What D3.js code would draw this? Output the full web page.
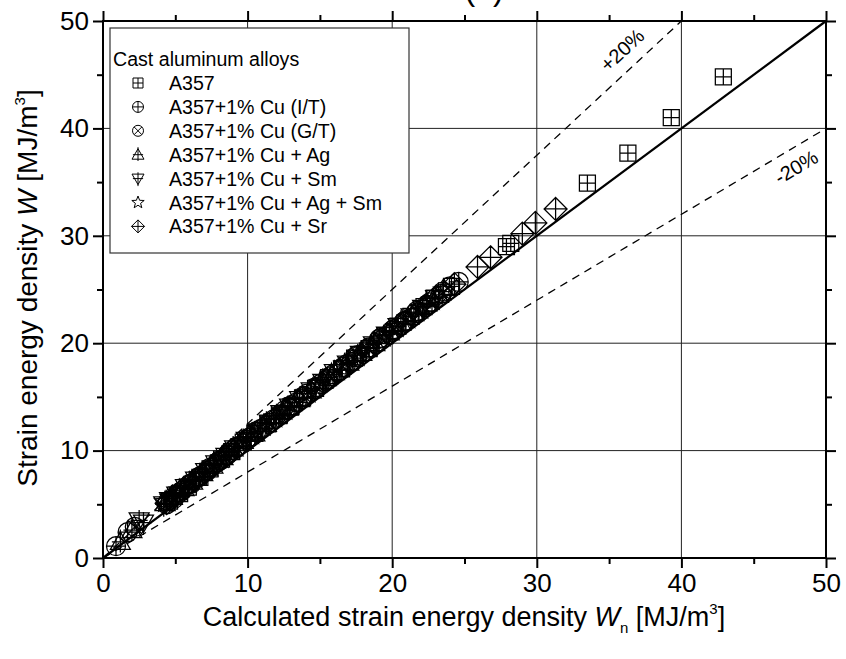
<!DOCTYPE html>
<html><head><meta charset="utf-8">
<script src="https://cdn.jsdelivr.net/npm/d3@7"></script>
<style>
body{margin:0;background:#fff}
text{font-family:"Liberation Sans",Arial,Helvetica,sans-serif;fill:#000}
</style>
</head><body>
<svg id="chart" width="846" height="659"></svg>
<script>
// ---------------- data ----------------
const majorTicks = [0, 10, 20, 30, 40, 50];
const minorTicks = [5, 15, 25, 35, 45];
const seriesNames = ["A357", "A357+1% Cu (I/T)", "A357+1% Cu (G/T)", "A357+1% Cu + Ag",
  "A357+1% Cu + Sm", "A357+1% Cu + Ag + Sm", "A357+1% Cu + Sr"];
const seriesSymbols = ["squarePlus", "circlePlus", "circleX", "triUp", "triDown", "star", "diamond"];

const a357 = [[4.6,5.3],[5.3,6.0],[5.9,6.6],[6.7,7.5],[7.4,8.3],[8.2,9.2],[8.9,9.9],[9.7,10.8],
  [10.5,11.6],[11.4,12.5],[12.2,13.3],[13.0,14.1],[13.8,14.9],[14.7,15.8],[15.6,16.8],[16.5,17.6],
  [17.4,18.6],[18.4,19.5],[19.5,20.7],[20.4,21.6],[21.3,22.5],[22.2,23.4],[22.9,24.2],[24.1,25.3],
  [27.9,29.0],[28.2,29.3],[33.5,34.9],[36.3,37.7],[39.3,41.0],[42.9,44.8]];
const cuIT = [[0.9,1.1],[1.7,2.4],[4.4,5.0],[4.9,5.7],[5.3,6.1],[6.0,6.9],[6.7,7.6],[7.4,8.4],
  [8.1,9.1],[8.7,9.8],[9.3,10.4],[10.1,11.2],[10.9,12.0],[11.8,12.9],[12.6,13.8],[13.4,14.5],
  [14.1,15.3],[15.0,16.2],[15.9,17.1],[16.8,18.0],[17.6,18.9],[18.4,19.6],[19.1,20.4],[20.0,21.2],
  [20.8,22.0],[21.6,22.8],[22.4,23.6],[23.5,24.8],[24.6,25.7]];
const cuGT = [[2.2,2.9],[4.5,5.3],[4.9,5.5],[5.5,6.3],[6.1,6.9],[6.6,7.5],[7.2,8.1],[7.9,8.9],
  [8.6,9.6],[9.2,10.3],[9.9,11.0],[10.6,11.8],[11.5,12.6],[12.3,13.4],[13.0,14.2],[13.9,15.1],
  [14.8,15.9],[15.7,16.9],[16.6,17.8],[17.4,18.7],[18.3,19.5],[19.2,20.5],[20.1,21.3],[20.9,22.1],
  [21.7,23.0],[22.6,23.8],[23.4,24.6],[24.0,25.3]];
const cuAg = [[1.2,1.5],[2.0,2.6],[4.3,5.1],[4.8,5.7],[5.6,6.5],[6.2,7.1],[6.9,7.9],[7.6,8.6],
  [8.3,9.4],[9.0,10.2],[9.7,10.9],[10.5,11.6],[11.3,12.5],[12.0,13.2],[12.8,14.0],[13.6,14.8],
  [14.4,15.6],[15.2,16.5],[16.0,17.3],[17.0,18.2],[17.9,19.1],[18.8,20.0],[19.8,21.0],[20.6,21.9],
  [21.5,22.8],[22.4,23.7],[23.2,24.5]];
const cuSm = [[2.5,3.5],[2.8,3.3],[4.2,5.0],[4.6,5.4],[5.1,5.9],[5.7,6.6],[6.4,7.3],[7.1,8.1],
  [7.8,8.8],[8.5,9.5],[9.1,10.2],[9.9,11.0],[10.7,11.8],[11.5,12.6],[12.3,13.5],[12.9,14.1],
  [13.6,14.8],[14.4,15.6],[15.2,16.4],[16.0,17.3],[16.9,18.1],[17.8,19.0],[18.7,19.9],[19.6,20.8],
  [20.4,21.6],[21.3,22.5],[22.1,23.3],[23.0,24.2]];
const cuAgSm = [[4.3,5.2],[4.7,5.6],[5.3,6.3],[6.0,7.0],[6.7,7.7],[7.5,8.5],[8.2,9.3],[9.0,10.1],
  [9.6,10.8],[10.3,11.5],[11.1,12.3],[11.9,13.1],[12.6,13.8],[13.3,14.6],[14.2,15.4],[15.0,16.3],
  [15.8,17.1],[16.7,18.0],[17.6,18.8],[18.5,19.7],[19.4,20.6],[20.3,21.5],[21.1,22.3],[22.0,23.2],
  [22.8,24.0],[23.6,24.9]];
const cuSr = [[4.4,5.1],[5.0,5.8],[5.6,6.5],[6.3,7.2],[7.0,7.9],[7.7,8.7],[8.5,9.5],[9.4,10.4],
  [10.2,11.3],[11.0,12.1],[11.9,13.0],[12.9,14.0],[13.8,14.9],[14.7,15.8],[15.5,16.6],[16.4,17.5],
  [17.3,18.4],[18.2,19.3],[19.1,20.2],[20.0,21.1],[20.9,22.0],[21.8,22.9],[23.0,24.3],[24.3,25.5],
  [25.9,27.1],[26.8,28.0],[29.0,30.2],[29.9,31.2],[31.3,32.5]];
const seriesData = [a357, cuIT, cuGT, cuAg, cuSm, cuAgSm, cuSr];

const bandFactors = [1.25, 0.8];
const bandLabels = ["+20%", "-20%"];
// --------------------------------------

const svg = d3.select("#chart");
svg.append("rect").attr("width", 846).attr("height", 659).attr("fill", "#fff");

const L = 103, R = 826, T = 21, B = 558;
const x = d3.scaleLinear().domain([0, 50]).range([L, R]);
const y = d3.scaleLinear().domain([0, 50]).range([B, T]);

// grid
const grid = svg.append("g").attr("stroke", "#222").attr("stroke-width", 1);
majorTicks.slice(1, -1).forEach(v => {
  grid.append("line").attr("x1", x(v)).attr("x2", x(v)).attr("y1", T).attr("y2", B);
  grid.append("line").attr("x1", L).attr("x2", R).attr("y1", y(v)).attr("y2", y(v));
});

// reference lines
const line = d3.line().x(d => x(d[0])).y(d => y(d[1]));
svg.append("path").attr("d", line([[0, 0], [50, 50]]))
  .attr("stroke", "#000").attr("stroke-width", 2.2).attr("fill", "none");
bandFactors.forEach(f => {
  const xe = Math.min(50, 50 / f);
  svg.append("path").attr("d", line([[0, 0], [xe, xe * f]]))
    .attr("stroke", "#000").attr("stroke-width", 1.3).attr("stroke-dasharray", "8,6").attr("fill", "none");
});

// band labels
function bandLabel(f, xd, off, txt) {
  const px = x(xd), py = y(xd * f);
  const ang = Math.atan2(y(0) - y(f), x(1) - x(0));
  const nx = -Math.sin(ang) * off, ny = -Math.cos(ang) * off;
  svg.append("text").attr("transform", `translate(${px + nx},${py + ny}) rotate(${-ang * 180 / Math.PI})`)
    .attr("text-anchor", "middle").attr("dominant-baseline", "central")
    .attr("font-size", 20).text(txt);
}
bandLabel(bandFactors[0], 36.8, 19, bandLabels[0]);
bandLabel(bandFactors[1], 47.3, -18, bandLabels[1]);

// symbols
function symPath(type, h) {
  const p = d3.path();
  if (type === "squarePlus") {
    p.rect(-h, -h, 2 * h, 2 * h);
    p.moveTo(-h, 0); p.lineTo(h, 0); p.moveTo(0, -h); p.lineTo(0, h);
  } else if (type === "circlePlus") {
    p.moveTo(h, 0); p.arc(0, 0, h, 0, 2 * Math.PI);
    p.moveTo(-h, 0); p.lineTo(h, 0); p.moveTo(0, -h); p.lineTo(0, h);
  } else if (type === "circleX") {
    p.moveTo(h, 0); p.arc(0, 0, h, 0, 2 * Math.PI);
    const k = h * 0.7071;
    p.moveTo(-k, -k); p.lineTo(k, k); p.moveTo(-k, k); p.lineTo(k, -k);
  } else if (type === "triUp") {
    p.moveTo(0, -h); p.lineTo(h, h * 0.75); p.lineTo(-h, h * 0.75); p.closePath();
    p.moveTo(0, -h * 1.25); p.lineTo(0, h * 1.05); p.moveTo(-h * 0.85, 0); p.lineTo(h * 0.85, 0);
  } else if (type === "triDown") {
    p.moveTo(0, h); p.lineTo(h, -h * 0.75); p.lineTo(-h, -h * 0.75); p.closePath();
    p.moveTo(0, h * 1.25); p.lineTo(0, -h * 1.05); p.moveTo(-h * 0.85, 0); p.lineTo(h * 0.85, 0);
  } else if (type === "star") {
    for (let i = 0; i < 10; i++) {
      const a = -Math.PI / 2 + i * Math.PI / 5, r = i % 2 === 0 ? h : h * 0.42;
      const px = r * Math.cos(a), py = r * Math.sin(a);
      if (i === 0) p.moveTo(px, py); else p.lineTo(px, py);
    }
    p.closePath();
  } else if (type === "diamond") {
    p.moveTo(0, -h); p.lineTo(h, 0); p.lineTo(0, h); p.lineTo(-h, 0); p.closePath();
    p.moveTo(-h, 0); p.lineTo(h, 0); p.moveTo(0, -h); p.lineTo(0, h);
  }
  return p.toString();
}
const plotSize = { squarePlus: 8, circlePlus: 9.5, circleX: 9.5, triUp: 10, triDown: 10, star: 11, diamond: 11.5 };
const legSize = { squarePlus: 5, circlePlus: 5.5, circleX: 5.5, triUp: 6, triDown: 6, star: 6.5, diamond: 6.5 };

seriesData.forEach((data, i) => {
  const t = seriesSymbols[i];
  svg.append("g").selectAll("path").data(data).join("path")
    .attr("transform", d => `translate(${x(d[0])},${y(d[1])})`)
    .attr("d", symPath(t, plotSize[t]))
    .attr("fill", "none").attr("stroke", "#000").attr("stroke-width", 1.25);
});

// axes
function styleAxis(g) {
  g.select(".domain").remove();
  g.selectAll(".tick line").attr("stroke", "#000").attr("stroke-width", 2);
  g.selectAll("text").attr("font-size", 26).attr("font-family", '"Liberation Sans",Arial,sans-serif');
}
svg.append("g").attr("transform", `translate(0,${B})`)
  .call(d3.axisBottom(x).tickValues(majorTicks).tickSize(10).tickPadding(6).tickFormat(d3.format("d")))
  .call(styleAxis);
svg.append("g").attr("transform", `translate(0,${B})`)
  .call(d3.axisBottom(x).tickValues(minorTicks).tickSize(6).tickFormat("")).call(styleAxis);
svg.append("g").attr("transform", `translate(0,${T})`)
  .call(d3.axisTop(x).tickValues(majorTicks).tickSize(10).tickFormat("")).call(styleAxis);
svg.append("g").attr("transform", `translate(0,${T})`)
  .call(d3.axisTop(x).tickValues(minorTicks).tickSize(6).tickFormat("")).call(styleAxis);
svg.append("g").attr("transform", `translate(${L},0)`)
  .call(d3.axisLeft(y).tickValues(majorTicks).tickSize(10).tickPadding(4).tickFormat(d3.format("d")))
  .call(styleAxis);
svg.append("g").attr("transform", `translate(${L},0)`)
  .call(d3.axisLeft(y).tickValues(minorTicks).tickSize(6).tickFormat("")).call(styleAxis);
svg.append("g").attr("transform", `translate(${R},0)`)
  .call(d3.axisRight(y).tickValues(majorTicks).tickSize(10).tickFormat("")).call(styleAxis);
svg.append("g").attr("transform", `translate(${R},0)`)
  .call(d3.axisRight(y).tickValues(minorTicks).tickSize(6).tickFormat("")).call(styleAxis);

// frame
svg.append("rect").attr("x", L).attr("y", T).attr("width", R - L).attr("height", B - T)
  .attr("fill", "none").attr("stroke", "#000").attr("stroke-width", 2);

// axis titles
const xt = svg.append("text").attr("x", 464).attr("y", 626).attr("text-anchor", "middle").attr("font-size", 27);
xt.append("tspan").text("Calculated strain energy density ");
xt.append("tspan").attr("font-style", "italic").text("W");
xt.append("tspan").attr("font-size", 15).attr("dy", 7).text("n");
xt.append("tspan").attr("dy", -7).text(" [MJ/m");
xt.append("tspan").attr("font-size", 15).attr("dy", -12).text("3");
xt.append("tspan").attr("dy", 12).text("]");

const yt = svg.append("text").attr("transform", "translate(37,288) rotate(-90)")
  .attr("text-anchor", "middle").attr("font-size", 28);
yt.append("tspan").text("Strain energy density ");
yt.append("tspan").attr("font-style", "italic").text("W");
yt.append("tspan").text(" [MJ/m");
yt.append("tspan").attr("font-size", 15).attr("dy", -12).text("3");
yt.append("tspan").attr("dy", 12).text("]");

// partially visible panel label (cut by the top edge, as in the source)
svg.append("text").attr("x", 484).attr("y", 0).attr("text-anchor", "middle").attr("font-size", 32).text("(a)");

// legend
const lg = svg.append("g");
lg.append("rect").attr("x", 110).attr("y", 28).attr("width", 299).attr("height", 225)
  .attr("fill", "#fff").attr("stroke", "#333").attr("stroke-width", 1.2);
lg.append("text").attr("x", 113).attr("y", 66).attr("font-size", 19.6).text("Cast aluminum alloys");
seriesNames.forEach((n, i) => {
  const yy = 90 + i * 23.9;
  const t = seriesSymbols[i];
  lg.append("path").attr("transform", `translate(138,${yy - 7})`).attr("d", symPath(t, legSize[t]))
    .attr("fill", "none").attr("stroke", "#000").attr("stroke-width", 1);
  lg.append("text").attr("x", 169).attr("y", yy).attr("font-size", 19.6).text(n);
});
</script>
</body></html>
